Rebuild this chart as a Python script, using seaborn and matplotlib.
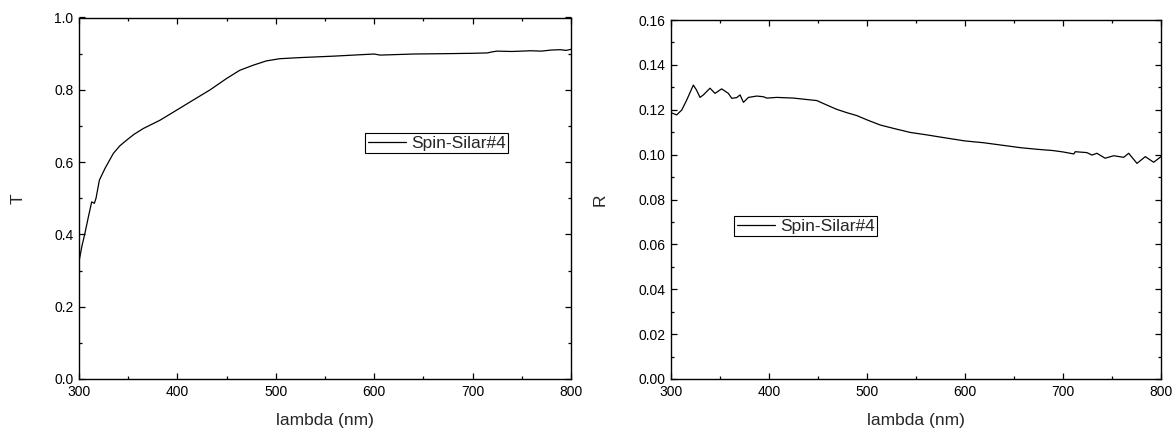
import numpy as np
import pandas as pd
import matplotlib
matplotlib.use("Agg")
import matplotlib.pyplot as plt
import seaborn as sns
from matplotlib.ticker import MultipleLocator, FormatStrFormatter

# ---- data ----
t_lambda = [300, 303, 306, 309.5, 312.9, 315.6, 317.3, 320.7, 326.5, 334.9, 341.5, 348.5, 356,
            365.4, 382.4, 399.4, 416.3, 433.3, 449.8, 463.4, 477, 490.5, 504, 524, 558, 600,
            606, 640, 674, 700, 715, 720, 725, 740, 759, 770, 780, 789, 795, 800]
t_values = [0.325, 0.368, 0.403, 0.448, 0.490, 0.486, 0.500, 0.550, 0.583, 0.624, 0.645, 0.661,
            0.677, 0.693, 0.716, 0.744, 0.772, 0.800, 0.831, 0.854, 0.868, 0.880, 0.886, 0.889,
            0.893, 0.899, 0.896, 0.899, 0.900, 0.901, 0.902, 0.905, 0.907, 0.906, 0.908, 0.907,
            0.910, 0.911, 0.909, 0.912]

r_lambda = [300, 305.8, 311, 316, 322.8, 326, 329.6, 333, 339.8, 344.9, 351.7, 358.5, 362, 367,
            370.5, 373.9, 379, 387.5, 394.3, 397.7, 408, 425, 442, 448.7, 459, 469, 479.4,
            489.6, 500.5, 513.5, 527, 544, 561, 578, 600, 619, 639.5, 656.5, 673, 690, 700,
            711, 712.5, 724.4, 729.5, 734.6, 743, 751.7, 762, 767, 775.5, 784, 792.5, 800]
r_values = [0.1187, 0.1177, 0.1199, 0.1243, 0.1310, 0.1288, 0.1255, 0.1266, 0.1296, 0.1273,
            0.1293, 0.1273, 0.1251, 0.1254, 0.1266, 0.1233, 0.1255, 0.1261, 0.1258, 0.1252,
            0.1255, 0.1252, 0.1244, 0.1241, 0.1221, 0.1202, 0.1187, 0.1174, 0.1154, 0.1132,
            0.1117, 0.1099, 0.1088, 0.1076, 0.1061, 0.1053, 0.1041, 0.1031, 0.1024, 0.1018,
            0.1012, 0.1003, 0.1013, 0.1009, 0.0998, 0.1006, 0.0984, 0.0995, 0.0988, 0.1006,
            0.0961, 0.0991, 0.0966, 0.0991]

series_label = "Spin-Silar#4"
x_label = "lambda (nm)"
t_label = "T"
r_label = "R"

# ---- styling ----
sns.set_style("ticks")
plt.rcParams['font.family'] = ['Liberation Sans', 'DejaVu Sans']
plt.rcParams['xtick.direction'] = 'in'
plt.rcParams['ytick.direction'] = 'in'

fig = plt.figure(figsize=(11.74, 4.30), dpi=100)
W, H = 1174, 430
ax1 = fig.add_axes([79 / W, 1 - 379 / H, 492 / W, 361.5 / H])
ax2 = fig.add_axes([671 / W, 1 - 379 / H, 490 / W, 359 / H])

df_t = pd.DataFrame({"lambda": t_lambda, "T": t_values, "s": series_label})
df_r = pd.DataFrame({"lambda": r_lambda, "R": r_values, "s": series_label})

sns.lineplot(data=df_t, x="lambda", y="T", hue="s", palette=["black"], lw=0.9,
             ax=ax1, sort=False, estimator=None)
sns.lineplot(data=df_r, x="lambda", y="R", hue="s", palette=["black"], lw=0.9,
             ax=ax2, sort=False, estimator=None)

def style(ax, ylim, ymaj, ymin, ylab, ylab_x, leg_anchor, fmt):
    ax.set_xlim(300, 800)
    ax.set_ylim(*ylim)
    ax.xaxis.set_major_locator(MultipleLocator(100))
    ax.xaxis.set_minor_locator(MultipleLocator(50))
    ax.yaxis.set_major_locator(MultipleLocator(ymaj))
    ax.yaxis.set_minor_locator(MultipleLocator(ymin))
    ax.yaxis.set_major_formatter(FormatStrFormatter(fmt))
    ax.tick_params(which='both', top=True, right=True, direction='in',
                   labelsize=10, width=0.9, colors='black')
    ax.tick_params(which='major', length=4.5, pad=4)
    ax.tick_params(which='minor', length=2.5)
    for sp in ax.spines.values():
        sp.set_linewidth(1.0)
        sp.set_color('black')
    ax.set_xlabel(x_label, fontsize=12.5)
    ax.set_ylabel(ylab, fontsize=12.5)
    ax.xaxis.set_label_coords(0.5, -0.094)
    ax.yaxis.set_label_coords(ylab_x, 0.5)
    leg = ax.legend(loc='upper left', bbox_to_anchor=leg_anchor,
                    bbox_transform=fig.transFigure, borderaxespad=0,
                    fontsize=12.5, frameon=True, fancybox=False,
                    edgecolor='black', framealpha=1, borderpad=0.15,
                    handlelength=2.2, handletextpad=0.3)
    leg.get_frame().set_linewidth(0.8)
    for line in leg.get_lines():
        line.set_linewidth(0.9)

style(ax1, (0, 1.0), 0.2, 0.1, t_label, -0.108, (365 / W, 1 - 133 / H), '%.1f')
style(ax2, (0, 0.16), 0.02, 0.01, r_label, -0.129, (734 / W, 1 - 216 / H), '%.2f')

fig.savefig("out.png", dpi=100)
